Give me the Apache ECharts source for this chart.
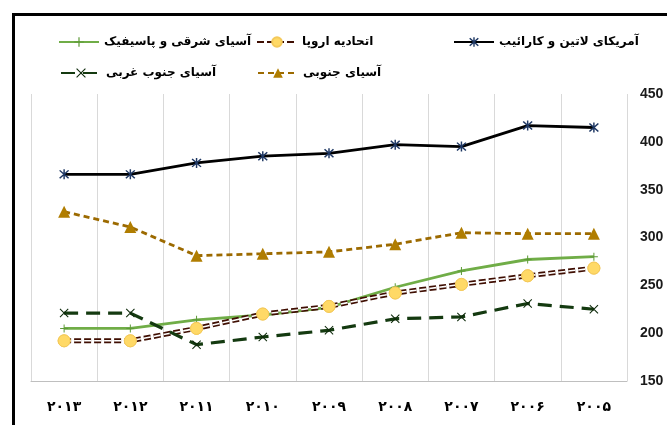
<!DOCTYPE html>
<html>
<head>
<meta charset="utf-8">
<script src="https://cdn.jsdelivr.net/npm/echarts@6/dist/echarts.min.js"></script>
<style>
  html, body { margin: 0; padding: 0; background: #fff; }
  #chart { width: 667px; height: 425px; }
</style>
</head>
<body>
<div id="chart"></div>
<script>
// years, left to right as in the picture (newest first)
const years = ['۲۰۱۳', '۲۰۱۲', '۲۰۱۱', '۲۰۱۰', '۲۰۰۹', '۲۰۰۸', '۲۰۰۷', '۲۰۰۶', '۲۰۰۵'];

const latinAmerica = [366, 366, 378, 385, 388, 397, 395, 417, 415];
const southAsia    = [327, 311, 281, 283, 285, 293, 305, 304, 304];
const eastAsia     = [205, 205, 214, 219, 227, 248, 265, 277, 280];
const europeUnion  = [192, 192, 205, 220, 228, 242, 251, 260, 268];
const southWest    = [221, 221, 188, 196, 203, 215, 217, 231, 225];

const names = {
  latin: 'آمریکای لاتین و کارائیب',
  eu: 'اتحادیه اروپا',
  east: 'آسیای شرقی و پاسیفیک',
  south: 'آسیای جنوبی',
  sw: 'آسیای جنوب غربی'
};

const yTicks = { min: 150, max: 450, step: 50 };

// marker shapes
const starPath = 'path://M-1.3,-10L1.3,-10L1.3,10L-1.3,10Z M-8.9,-7L-7,-8.9L8.9,7L7,8.9Z M7,-8.9L8.9,-7L-7,8.9L-8.9,7Z';
const plusPath = 'path://M-1,-8L1,-8L1,8L-1,8Z M-8,-1L8,-1L8,1L-8,1Z';
const crossPath = 'path://M-8.6,-7.2L-7.2,-8.6L8.6,7.2L7.2,8.6Z M7.2,-8.6L8.6,-7.2L-7.2,8.6L-8.6,7.2Z';

const euDash = [7, 3];

const chart = echarts.init(document.getElementById('chart'));

const legendText = {
  fontFamily: 'DejaVu Sans', fontWeight: 'bold', fontSize: 12, color: '#000'
};
function legendAt(name, left, top) {
  return {
    data: [name], left: left, top: top,
    itemWidth: 40, itemHeight: 12, itemGap: 4,
    textStyle: legendText, selectedMode: false
  };
}

chart.setOption({
  animation: false,
  backgroundColor: '#fff',
  graphic: [{
    type: 'rect', left: 11, top: 12,
    shape: { width: 700, height: 450 },
    style: { fill: 'none', stroke: '#000', lineWidth: 3 }
  }],
  legend: [
    legendAt(names.east, 53, 31),
    legendAt(names.eu, 251, 31),
    legendAt(names.latin, 448, 31),
    legendAt(names.sw, 55, 62),
    legendAt(names.south, 252, 62)
  ],
  grid: { left: 31, right: 40, top: 94, bottom: 44 },
  xAxis: {
    type: 'category',
    data: years,
    boundaryGap: true,
    axisLine: { lineStyle: { color: '#BFBFBF', width: 1 } },
    axisTick: { show: false },
    splitLine: { show: true, lineStyle: { color: '#D9D9D9', width: 1 } },
    axisLabel: {
      margin: 19, color: '#000', fontFamily: 'DejaVu Sans',
      fontWeight: 'bold', fontSize: 14
    }
  },
  yAxis: {
    type: 'value',
    position: 'right',
    min: yTicks.min, max: yTicks.max, interval: yTicks.step,
    axisLine: { show: false },
    axisTick: { show: false },
    splitLine: { show: false },
    axisLabel: {
      margin: 13, color: '#1a1a1a', fontFamily: 'Liberation Sans',
      fontWeight: 'bold', fontSize: 14
    }
  },
  series: [
    {
      name: names.latin, type: 'line', data: latinAmerica,
      symbol: starPath, symbolSize: 10,
      lineStyle: { color: '#000', width: 2.8 },
      itemStyle: { color: '#1F3864' }
    },
    {
      name: names.south, type: 'line', data: southAsia,
      symbol: 'triangle', symbolSize: 12,
      lineStyle: { color: '#9C6A00', width: 2.8, type: [6, 4] },
      itemStyle: { color: '#B07D00' }
    },
    {
      name: names.east, type: 'line', data: eastAsia,
      symbol: plusPath, symbolSize: 8,
      lineStyle: { color: '#70AD47', width: 2.8 },
      itemStyle: { color: '#5E9A38' }
    },
    {
      name: names.eu, type: 'line', data: europeUnion,
      symbol: 'circle', symbolSize: 12,
      lineStyle: { color: '#3F0E02', width: 5, type: euDash },
      itemStyle: { color: '#FFD966', borderColor: '#F4C95A', borderWidth: 1 }
    },
    {
      // white core of the EU compound line, markers drawn on top of it
      name: names.eu + ' ', type: 'line', data: europeUnion, silent: true,
      symbol: 'circle', symbolSize: 12,
      lineStyle: { color: '#fff', width: 1.6, type: euDash },
      itemStyle: { color: '#FFD966', borderColor: '#F4C95A', borderWidth: 1 }
    },
    {
      name: names.sw, type: 'line', data: southWest,
      symbol: crossPath, symbolSize: 9,
      lineStyle: { color: '#143A10', width: 3.2, type: [14, 8] },
      itemStyle: { color: '#0E2A0B' }
    }
  ]
});
</script>
</body>
</html>
